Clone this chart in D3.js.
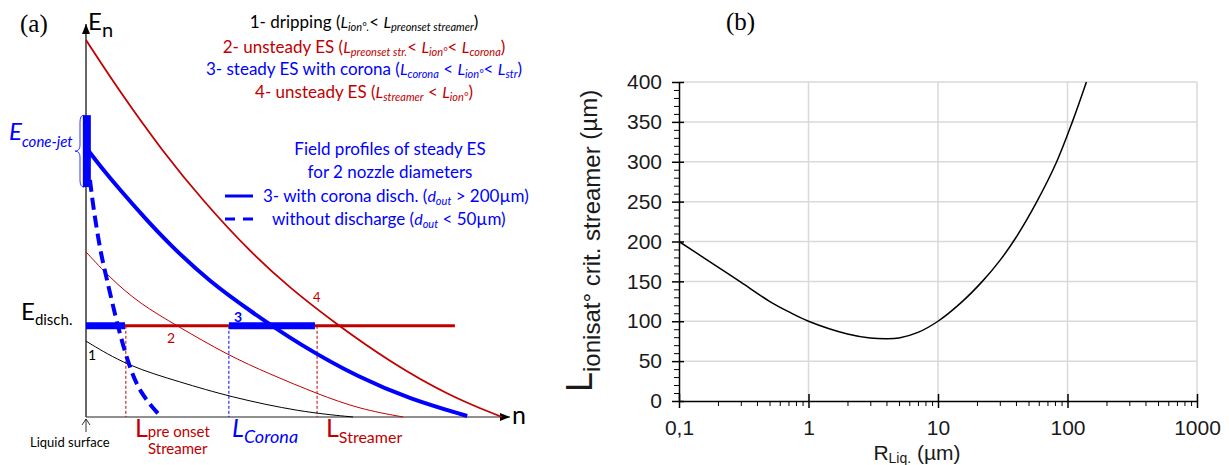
<!DOCTYPE html>
<html>
<head>
<meta charset="utf-8">
<script src="https://cdn.jsdelivr.net/npm/d3@7"></script>
<style>
  html, body { margin: 0; padding: 0; background: #fff; }
  svg text { white-space: pre; }
</style>
</head>
<body>
<svg id="chart" width="1229" height="465"></svg>
<script>
// ---- panel (a): schematic field profiles, n and E in arbitrary units (0..100)
const curve4N = [0, 8.0, 18.2, 27.6, 38.7, 48.1, 58.7, 71.7, 85.8, 98.1];
const curve4E = [95.9, 82.7, 67.4, 55.0, 42.0, 32.8, 23.9, 14.0, 5.3, 0];
const curve3N = [0.47, 3.3, 8.0, 13.9, 19.8, 29.2, 38.7, 50.5, 64.6, 76.4, 89.9];
const curve3E = [67.9, 63.9, 57.8, 50.6, 43.8, 34.4, 27.0, 18.3, 9.9, 4.6, 0.25];
const curve2N = [0, 5.66, 12.7, 21.5, 33.3, 43.4, 54.5, 64.6, 74.8];
const curve2E = [42.0, 35.4, 28.8, 23.2, 15.8, 10.9, 5.9, 2.0, 0];
const curve1N = [0, 9.7, 22.2, 34.0, 50.5, 63.0];
const curve1E = [19.3, 13.0, 8.9, 5.1, 1.3, 0];
const noDischN = [0.94, 1.65, 3.3, 4.95, 7.3, 9.9, 12.7, 17.5];
const noDischE = [60.3, 53.9, 42.5, 34.9, 23.9, 13.7, 6.1, 0.25];

const eDisch = 23.2;
const eConeJet = [58.5, 76.8];
// segments of the E_disch. line: [from, to, kind]
const dischSegments = [[0, 9.2, 'blue'], [9.2, 33.7, 'red'], [33.7, 54.0, 'blue'], [54.0, 87.0, 'red']];
const lengthMarks = [[9.4, 'red'], [33.7, 'blue'], [54.5, 'red']];

// ---- panel (b): critical ionisation length vs liquid radius
const rLiq = [0.1, 0.2, 0.3, 0.5, 0.7, 1, 2, 3, 4, 5, 7, 10, 15, 22, 30, 40, 58, 82, 109, 140];
const lCrit = [200, 168, 149, 125, 112, 100, 84, 79, 78, 79, 86, 100, 123, 150, 176, 205, 250, 299, 350, 400];
const yTicks = [0, 50, 100, 150, 200, 250, 300, 350, 400];
const xTicks = [0.1, 1, 10, 100, 1000];
const xTickLabels = ['0,1', '1', '10', '100', '1000'];

const RED = '#c00000', BLUE = '#0000ff';
const SANS = 'Lato, "Open Sans", sans-serif';
const ARIAL = '"Liberation Sans", Arial, sans-serif';

const svg = d3.select('#chart');

// rich text: segments [text, kind]; n normal, i italic, s italic subscript, S upright subscript
function rich(parent, x, y, anchor, fill, segs, f) {
    const t = parent.append('text')
        .attr('x', x).attr('y', y)
        .attr('text-anchor', anchor)
        .attr('fill', fill)
        .style('font-family', f.family)
        .style('font-size', f.size + 'px');
    let shift = 0;
    segs.forEach(([txt, kind]) => {
        const s = t.append('tspan').text(txt);
        let target = 0;
        if (kind === 'i') s.style('font-style', 'italic').style('font-size', (f.isize || f.size) + 'px');
        if (kind === 's') { s.style('font-style', 'italic').style('font-size', f.ssize + 'px'); target = f.sdy; }
        if (kind === 'S') { s.style('font-size', f.ssize + 'px'); target = f.sdy; }
        if (target !== shift) { s.attr('dy', target - shift); shift = target; }
    });
    return t;
}

// ================= panel (a)
const xA = d3.scaleLinear().domain([0, 100]).range([86, 510]);
const yA = d3.scaleLinear().domain([0, 100]).range([417, 24]);
const ga = svg.append('g');

const defs = svg.append('defs');
defs.append('marker')
    .attr('id', 'arrow')
    .attr('viewBox', '0 0 10 10')
    .attr('refX', 10).attr('refY', 5)
    .attr('markerWidth', 10).attr('markerHeight', 10)
    .attr('markerUnits', 'userSpaceOnUse')
    .attr('orient', 'auto')
    .append('path').attr('d', 'M0,1 L10,5 L0,9 Z').attr('fill', '#000');

// axes
ga.append('line')
    .attr('x1', xA(0)).attr('y1', yA(0)).attr('x2', xA(0)).attr('y2', yA(100))
    .attr('stroke', '#000').attr('stroke-width', 1.2).attr('marker-end', 'url(#arrow)');
ga.append('line')
    .attr('x1', xA(0)).attr('y1', yA(0)).attr('x2', xA(100)).attr('y2', yA(0))
    .attr('stroke', '#222').attr('stroke-width', 1.2).attr('marker-end', 'url(#arrow)');

const lineA = d3.line().x(d => xA(d[0])).y(d => yA(d[1])).curve(d3.curveBasis);
const zip = (a, b) => a.map((v, i) => [v, b[i]]);

// vertical length markers
lengthMarks.forEach(([n, c]) => {
    ga.append('line')
        .attr('x1', xA(n)).attr('x2', xA(n))
        .attr('y1', yA(eDisch)).attr('y2', yA(0))
        .attr('stroke', c === 'red' ? RED : BLUE)
        .attr('stroke-width', 1)
        .attr('stroke-dasharray', '3,2');
});

ga.append('path').datum(zip(curve1N, curve1E)).attr('d', lineA)
    .attr('fill', 'none').attr('stroke', '#000').attr('stroke-width', 1);
ga.append('path').datum(zip(curve2N, curve2E)).attr('d', lineA)
    .attr('fill', 'none').attr('stroke', RED).attr('stroke-width', 1);
ga.append('path').datum(zip(curve4N, curve4E)).attr('d', lineA)
    .attr('fill', 'none').attr('stroke', RED).attr('stroke-width', 1.8);

// E_disch. line
dischSegments.forEach(([a, b, c]) => {
    ga.append('line')
        .attr('x1', xA(a)).attr('x2', xA(b))
        .attr('y1', yA(eDisch)).attr('y2', yA(eDisch))
        .attr('stroke', c === 'red' ? RED : BLUE)
        .attr('stroke-width', c === 'red' ? 3 : 7);
});

ga.append('path').datum(zip(curve3N, curve3E)).attr('d', lineA)
    .attr('fill', 'none').attr('stroke', BLUE).attr('stroke-width', 4);
ga.append('path').datum(zip(noDischN, noDischE)).attr('d', lineA)
    .attr('fill', 'none').attr('stroke', BLUE).attr('stroke-width', 4)
    .attr('stroke-dasharray', '12,6');

// cone-jet bar and brace
ga.append('line')
    .attr('x1', xA(0.2)).attr('x2', xA(0.2))
    .attr('y1', yA(eConeJet[0])).attr('y2', yA(eConeJet[1]))
    .attr('stroke', BLUE).attr('stroke-width', 8);
{
    const bx = 80, t = yA(eConeJet[1]), b = yA(eConeJet[0]), m = (t + b) / 2;
    ga.append('path')
        .attr('d', `M${bx + 4},${t} Q${bx},${t} ${bx},${t + 7} L${bx},${m - 6} Q${bx},${m} ${bx - 5},${m} Q${bx},${m} ${bx},${m + 6} L${bx},${b - 7} Q${bx},${b} ${bx + 4},${b}`)
        .attr('fill', 'none').attr('stroke', BLUE).attr('stroke-width', 0.8);
}

// small curve numbers
ga.append('text').attr('x', 88).attr('y', 360).text('1')
    .style('font-family', SANS).style('font-size', '14px').attr('fill', '#000');
ga.append('text').attr('x', 167).attr('y', 343).text('2')
    .style('font-family', SANS).style('font-size', '14px').attr('fill', RED);
ga.append('text').attr('x', 234).attr('y', 322).text('3')
    .style('font-family', SANS).style('font-size', '14px').style('font-weight', 'bold').attr('fill', BLUE);
ga.append('text').attr('x', 313).attr('y', 302).text('4')
    .style('font-family', SANS).style('font-size', '13px').attr('fill', RED);

// axis labels
ga.append('text').attr('x', 20).attr('y', 32).text('(a)')
    .style('font-family', '"Liberation Serif", serif').style('font-size', '25px');
rich(ga, 88, 30, 'start', '#000', [['E', 'n'], ['n', 'S']], { family: SANS, size: 24, ssize: 20, sdy: 7 });
ga.append('text').attr('x', 512).attr('y', 424).text('n')
    .style('font-family', SANS).style('font-size', '25px');
rich(ga, 21, 320, 'start', '#000', [['E', 'n'], ['disch.', 'S']], { family: SANS, size: 24, ssize: 15, sdy: 5 });
rich(ga, 9, 140, 'start', BLUE, [['E', 'i'], ['cone-jet', 's']], { family: SANS, size: 24, ssize: 15, sdy: 7 });

// bottom labels
ga.append('line').attr('x1', xA(0)).attr('x2', xA(0)).attr('y1', 432).attr('y2', 419)
    .attr('stroke', '#000').attr('stroke-width', 0.8);
ga.append('path').attr('d', `M${xA(0) - 4},${425} L${xA(0)},${419} L${xA(0) + 4},${425}`)
    .attr('fill', 'none').attr('stroke', '#000').attr('stroke-width', 0.8);
ga.append('text').attr('x', 30).attr('y', 447).text('Liquid surface')
    .style('font-family', SANS).style('font-size', '13px');
rich(ga, 135, 437, 'start', RED, [['L', 'n'], ['pre onset', 'S']], { family: SANS, size: 25, ssize: 15, sdy: 0 });
ga.append('text').attr('x', 148).attr('y', 454).text('Streamer')
    .style('font-family', SANS).style('font-size', '15px').attr('fill', RED);
rich(ga, 232, 437, 'start', BLUE, [['L', 'i'], ['Corona', 's']], { family: SANS, size: 25, ssize: 18, sdy: 6 });
rich(ga, 326, 437, 'start', RED, [['L', 'n'], ['Streamer', 'S']], { family: SANS, size: 25, ssize: 16, sdy: 6 });

// legend block
const lf = { family: SANS, size: 17, isize: 16, ssize: 11, sdy: 3 };
rich(ga, 364, 28, 'middle', '#000',
    [['1- dripping (', 'n'], ['L', 'i'], ['ion°.', 's'], ['< ', 'n'], ['L', 'i'], ['preonset streamer', 's'], [')', 'n']], lf);
rich(ga, 364, 53, 'middle', RED,
    [['2- unsteady ES (', 'n'], ['L', 'i'], ['preonset str.', 's'], ['< ', 'n'], ['L', 'i'], ['ion°', 's'], ['< ', 'n'], ['L', 'i'], ['corona', 's'], [')', 'n']], lf);
rich(ga, 364, 75, 'middle', BLUE,
    [['3- steady ES with corona (', 'n'], ['L', 'i'], ['corona', 's'], [' < ', 'n'], ['L', 'i'], ['ion°', 's'], ['< ', 'n'], ['L', 'i'], ['str', 's'], [')', 'n']], lf);
rich(ga, 364, 98, 'middle', RED,
    [['4- unsteady ES (', 'n'], ['L', 'i'], ['streamer', 's'], [' < ', 'n'], ['L', 'i'], ['ion°', 's'], [')', 'n']], lf);

rich(ga, 390, 155, 'middle', BLUE, [['Field profiles of steady ES', 'n']], lf);
rich(ga, 390, 178, 'middle', BLUE, [['for 2 nozzle diameters', 'n']], lf);
rich(ga, 263, 202, 'start', BLUE, [['3- with corona disch. (', 'n'], ['d', 'i'], ['out', 's'], [' > 200µm)', 'n']], lf);
rich(ga, 272, 225, 'start', BLUE, [['without discharge (', 'n'], ['d', 'i'], ['out', 's'], [' < 50µm)', 'n']], lf);
ga.append('line').attr('x1', 225).attr('x2', 253).attr('y1', 196).attr('y2', 196)
    .attr('stroke', BLUE).attr('stroke-width', 3);
ga.append('line').attr('x1', 225).attr('x2', 253).attr('y1', 219).attr('y2', 219)
    .attr('stroke', BLUE).attr('stroke-width', 3).attr('stroke-dasharray', '10,8');

// ================= panel (b)
const x = d3.scaleLog().domain([0.1, 1000]).range([679, 1197]);
const y = d3.scaleLinear().domain([0, 400]).range([401, 82]);
const gb = svg.append('g');

gb.append('text').attr('x', 726).attr('y', 30).text('(b)')
    .style('font-family', '"Liberation Serif", serif').style('font-size', '25px');

// grid
gb.append('g')
    .selectAll('line.h').data(yTicks.filter(v => v > 0)).join('line')
    .attr('x1', x(0.1)).attr('x2', x(1000))
    .attr('y1', d => y(d)).attr('y2', d => y(d))
    .attr('stroke', '#d9d9d9').attr('stroke-width', 1.5);
gb.append('g')
    .selectAll('line.v').data(xTicks.filter(v => v > 0.1)).join('line')
    .attr('x1', d => x(d)).attr('x2', d => x(d))
    .attr('y1', y(0)).attr('y2', y(400))
    .attr('stroke', '#d9d9d9').attr('stroke-width', 1.5);

// minor ticks
const yMinor = d3.range(0, 401, 10).filter(v => v % 50 !== 0);
const xMinor = [];
[0.1, 1, 10, 100].forEach(dec => { for (let k = 2; k <= 9; k++) xMinor.push(dec * k); });

gb.append('g')
    .attr('transform', `translate(${x(0.1)},0)`)
    .call(d3.axisLeft(y).tickValues(yMinor).tickSize(5).tickFormat(''))
    .call(g => g.select('.domain').remove())
    .selectAll('line').attr('stroke', '#000').attr('stroke-width', 1);
gb.append('g')
    .attr('transform', `translate(0,${y(0)})`)
    .call(d3.axisBottom(x).tickValues(xMinor).tickSize(5).tickFormat(''))
    .call(g => g.select('.domain').remove())
    .selectAll('line').attr('stroke', '#000').attr('stroke-width', 1);

// major axes
const yAxis = gb.append('g')
    .attr('transform', `translate(${x(0.1)},0)`)
    .call(d3.axisLeft(y).tickValues(yTicks).tickSizeInner(7).tickSizeOuter(0).tickPadding(10));
yAxis.selectAll('.tick line').attr('x2', -7).attr('x1', 5);
const xAxis = gb.append('g')
    .attr('transform', `translate(0,${y(0)})`)
    .call(d3.axisBottom(x).tickValues(xTicks).tickFormat((d, i) => xTickLabels[i]).tickSizeInner(7).tickSizeOuter(0).tickPadding(12));
xAxis.selectAll('.tick line').attr('y1', -7).attr('y2', 7);
[yAxis, xAxis].forEach(a => {
    a.select('.domain').attr('stroke', '#000').attr('stroke-width', 1.5);
    a.selectAll('.tick line').attr('stroke', '#000').attr('stroke-width', 1.5);
    a.selectAll('.tick text').attr('fill', '#1a1a1a')
        .style('font-family', ARIAL).style('font-size', '21px');
});

// curve
const lineB = d3.line().x(d => x(d[0])).y(d => y(d[1])).curve(d3.curveCatmullRom.alpha(0.5));
gb.append('path').datum(zip(rLiq, lCrit)).attr('d', lineB)
    .attr('fill', 'none').attr('stroke', '#000').attr('stroke-width', 1.5);

// axis titles
rich(gb, 917, 460, 'middle', '#1a1a1a', [['R', 'n'], ['Liq.', 'S'], [' (µm)', 'n']], { family: ARIAL, size: 21, ssize: 14, sdy: 3 });
{
    const t = gb.append('text')
        .attr('transform', 'translate(592,392) rotate(-90)')
        .attr('fill', '#1a1a1a')
        .style('font-family', ARIAL);
    t.append('tspan').text('L').style('font-size', '36px');
    t.append('tspan').text('ionisat° crit. streamer').style('font-size', '24px').attr('dy', 8);
    t.append('tspan').text(' (µm)').style('font-size', '24px').attr('dy', -3);
}
</script>
</body>
</html>
